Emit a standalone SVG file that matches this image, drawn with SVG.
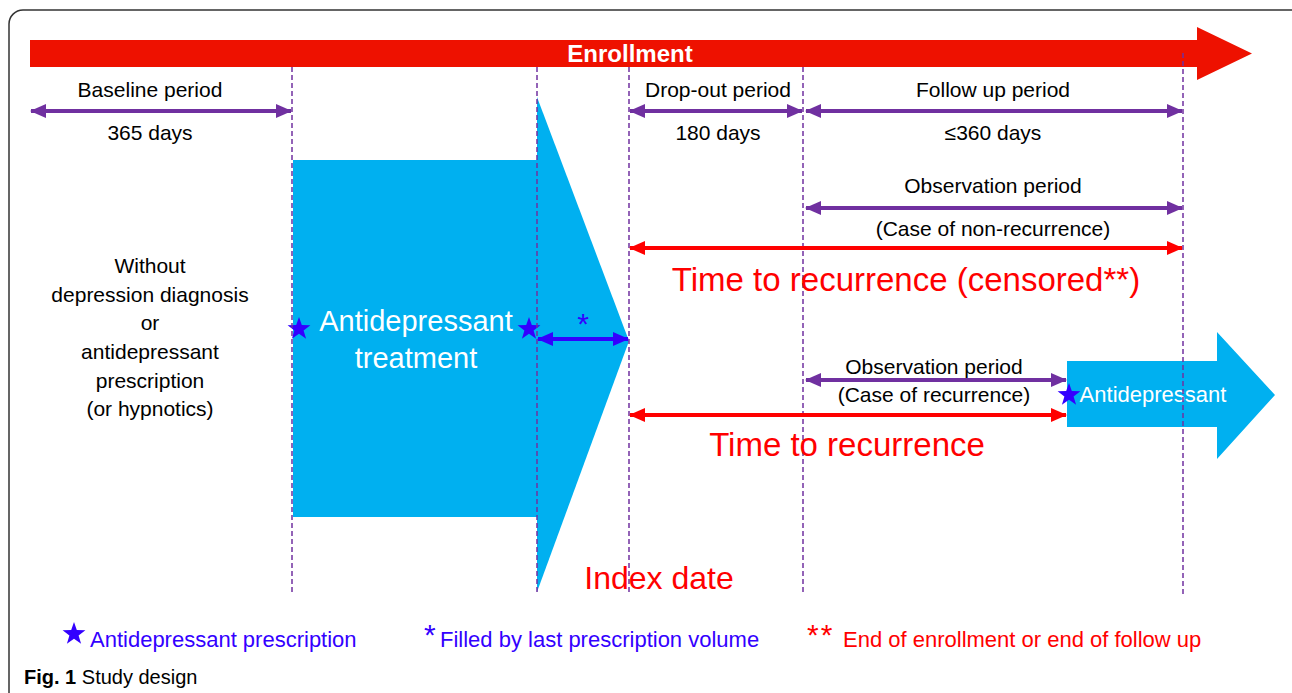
<svg xmlns="http://www.w3.org/2000/svg" xmlns:xlink="http://www.w3.org/1999/xlink" width="1292" height="693" viewBox="0 0 1292 693">
<style>
.t{font-family:"Liberation Sans",Arial,sans-serif;font-size:21px;fill:#000;text-anchor:middle}
.red{fill:#FF0000}
.wh{fill:#fff}
.bl{fill:#3300FF}
.dash{stroke:#7030A0;stroke-width:1.5;stroke-dasharray:5,3;fill:none}
.pur{stroke:#7030A0;stroke-width:4;fill:none}
.rl{stroke:#FF0000;stroke-width:4;fill:none}
.bll{stroke:#3300FF;stroke-width:4;fill:none}
</style>
<defs>
<marker id="pa" markerUnits="userSpaceOnUse" markerWidth="16" markerHeight="14" refX="15" refY="7" orient="auto-start-reverse"><path d="M0,0 L16,7 L0,14 Z" fill="#7030A0"/></marker>
<marker id="ra" markerUnits="userSpaceOnUse" markerWidth="16" markerHeight="14" refX="15" refY="7" orient="auto-start-reverse"><path d="M0,0 L16,7 L0,14 Z" fill="#FF0000"/></marker>
<marker id="ba" markerUnits="userSpaceOnUse" markerWidth="16" markerHeight="14" refX="15" refY="7" orient="auto-start-reverse"><path d="M0,0 L16,7 L0,14 Z" fill="#3300FF"/></marker>
<path id="star" d="M0,-12 L2.8,-3.9 L11.4,-3.7 L4.6,1.5 L7.1,9.7 L0,4.8 L-7.1,9.7 L-4.6,1.5 L-11.4,-3.7 L-2.8,-3.9 Z" fill="#3300FF"/>
</defs>
<rect x="0" y="0" width="1292" height="693" fill="#fff"/>
<rect id="frame" x="9" y="10" width="1300" height="710" rx="14" fill="none" stroke="#333" stroke-width="1.5"/>

<g id="enrollment">
<path d="M30,40 H1197 V27 L1252,53.5 L1197,80 V67 H30 Z" fill="#EE1100"/>
<text x="630" y="62" class="t wh" style="font-weight:bold;font-size:24px">Enrollment</text>
</g>

<g id="treatment">
<rect x="293" y="160" width="244" height="357" fill="#00B0F0"/>
<path d="M537,97 L629,341 L537,592 Z" fill="#00B0F0"/>
<text x="416" y="331" class="t wh" style="font-size:29px">Antidepressant</text>
<text x="416" y="368" class="t wh" style="font-size:29px">treatment</text>
<use xlink:href="#star" x="299" y="329"/>
<use xlink:href="#star" x="529" y="329"/>
<text x="583" y="334" class="t bl" style="font-size:30px">*</text>
</g>

<g id="recurrence-drug">
<path d="M1067,361 H1217 V332 L1275,395 L1217,459 V427 H1067 Z" fill="#00B0F0"/>
<text x="1153" y="402" class="t wh" style="font-size:22px">Antidepressant</text>
<use xlink:href="#star" x="1069" y="395"/>
</g>

<g id="guides">
<line x1="292" y1="67" x2="292" y2="595" class="dash"/>
<line x1="537" y1="67" x2="537" y2="595" class="dash"/>
<line x1="629" y1="67" x2="629" y2="595" class="dash"/>
<line x1="803" y1="67" x2="803" y2="595" class="dash"/>
<line x1="1183" y1="53" x2="1183" y2="595" class="dash"/>
</g>

<g id="connectors">
<line x1="31" y1="111" x2="291" y2="111" class="pur" marker-start="url(#pa)" marker-end="url(#pa)"/>
<line x1="630" y1="111" x2="802" y2="111" class="pur" marker-start="url(#pa)" marker-end="url(#pa)"/>
<line x1="806" y1="111" x2="1182" y2="111" class="pur" marker-start="url(#pa)" marker-end="url(#pa)"/>
<line x1="806" y1="208" x2="1182" y2="208" class="pur" marker-start="url(#pa)" marker-end="url(#pa)"/>
<line x1="806" y1="380" x2="1066" y2="380" class="pur" marker-start="url(#pa)" marker-end="url(#pa)"/>
<line x1="630" y1="248" x2="1182" y2="248" class="rl" marker-start="url(#ra)" marker-end="url(#ra)"/>
<line x1="630" y1="415" x2="1066" y2="415" class="rl" marker-start="url(#ra)" marker-end="url(#ra)"/>
<line x1="538" y1="339" x2="628" y2="339" class="bll" marker-start="url(#ba)" marker-end="url(#ba)"/>
</g>

<g id="labels">
<text x="150" y="97" class="t">Baseline period</text>
<text x="150" y="140" class="t">365 days</text>
<text x="718" y="97" class="t">Drop-out period</text>
<text x="718" y="140" class="t">180 days</text>
<text x="993" y="97" class="t">Follow up period</text>
<text x="993" y="140" class="t">≤360 days</text>
<text x="993" y="193" class="t">Observation period</text>
<text x="993" y="236" class="t">(Case of non-recurrence)</text>
<text x="906" y="291" class="t red" style="font-size:33px">Time to recurrence (censored**)</text>
<text x="934" y="374" class="t">Observation period</text>
<text x="934" y="402" class="t">(Case of recurrence)</text>
<text x="847" y="456" class="t red" style="font-size:33px">Time to recurrence</text>
<text x="659" y="589" class="t red" style="font-size:32px">Index date</text>
</g>

<g id="without">
<text x="150" y="273" class="t">Without</text>
<text x="150" y="302" class="t">depression diagnosis</text>
<text x="150" y="330" class="t">or</text>
<text x="150" y="359" class="t">antidepressant</text>
<text x="150" y="388" class="t">prescription</text>
<text x="150" y="416" class="t">(or hypnotics)</text>
</g>

<g id="legend">
<use xlink:href="#star" x="74" y="634"/>
<text x="90" y="647" class="t bl" style="text-anchor:start;font-size:22px">Antidepressant prescription</text>
<text x="424" y="645" class="t bl" style="text-anchor:start;font-size:30px">*</text>
<text x="440" y="647" class="t bl" style="text-anchor:start;font-size:22px">Filled by last prescription volume</text>
<text x="807" y="645" class="t red" style="text-anchor:start;font-size:30px;letter-spacing:2px">**</text>
<text x="843" y="647" class="t red" style="text-anchor:start;font-size:22px">End of enrollment or end of follow up</text>
</g>

<g id="caption">
<text x="24" y="684" class="t" style="text-anchor:start;font-size:20px"><tspan font-weight="bold">Fig. 1</tspan> Study design</text>
</g>
</svg>
